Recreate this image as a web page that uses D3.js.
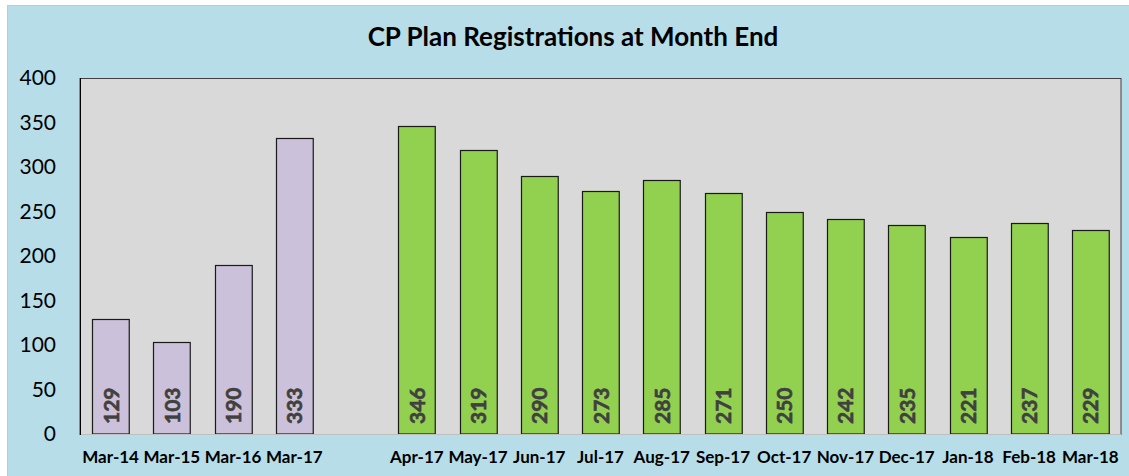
<!DOCTYPE html>
<html>
<head>
<meta charset="utf-8">
<script src="https://cdn.jsdelivr.net/npm/d3@7"></script>
<style>
  html, body { margin: 0; padding: 0; background: #ffffff; }
  svg { display: block; font-family: Lato, "Open Sans", sans-serif; }
</style>
</head>
<body>
<svg id="chart" width="1129" height="476"></svg>
<script>
// categories, "" is the empty gap slot between the two groups
var categories = ["Mar-14", "Mar-15", "Mar-16", "Mar-17", "",
	"Apr-17", "May-17", "Jun-17", "Jul-17", "Aug-17", "Sep-17",
	"Oct-17", "Nov-17", "Dec-17", "Jan-18", "Feb-18", "Mar-18"]
var yearEndValues = [129, 103, 190, 333]
var yearEndMonths = ["Mar-14", "Mar-15", "Mar-16", "Mar-17"]
var monthlyValues = [346, 319, 290, 273, 285, 271, 250, 242, 235, 221, 237, 229]
var monthlyMonths = ["Apr-17", "May-17", "Jun-17", "Jul-17", "Aug-17", "Sep-17",
	"Oct-17", "Nov-17", "Dec-17", "Jan-18", "Feb-18", "Mar-18"]
var yTicks = [0, 50, 100, 150, 200, 250, 300, 350, 400]
var title = "CP Plan Registrations at Month End"

var svg = d3.select("#chart")
var W = 1129, H = 476
var plot = { left: 80, top: 78, right: 1121, bottom: 434 }

// outer chart area
svg.append("rect")
	.attr("x", 7.5).attr("y", 5.5)
	.attr("width", W).attr("height", H)
	.attr("fill", "#b7dde8")
	.attr("stroke", "#c8c8c8")

svg.append("text")
	.attr("x", 573).attr("y", 46)
	.attr("text-anchor", "middle")
	.attr("font-size", 26).attr("font-weight", "bold")
	.attr("fill", "#000")
	.text(title)

var x = d3.scaleBand()
	.domain(categories)
	.range([plot.left, plot.right])
	.paddingInner(0.4)
	.paddingOuter(0.2)

var y = d3.scaleLinear()
	.domain([0, 400])
	.range([plot.bottom, plot.top])

// plot area
svg.append("rect")
	.attr("x", plot.left).attr("y", plot.top + 0.5)
	.attr("width", plot.right - plot.left).attr("height", plot.bottom - plot.top)
	.attr("fill", "#d9d9d9")
	.attr("stroke", "#404040")

var bars = []
yearEndMonths.forEach(function(m, i) { bars.push({ cat: m, val: yearEndValues[i], color: "#ccc1da" }) })
monthlyMonths.forEach(function(m, i) { bars.push({ cat: m, val: monthlyValues[i], color: "#92d050" }) })

svg.append("g").selectAll("rect")
	.data(bars)
	.enter().append("rect")
	.attr("x", function(d) { return Math.round(x(d.cat)) + 0.5 })
	.attr("y", function(d) { return Math.round(y(d.val)) + 0.5 })
	.attr("width", x.bandwidth())
	.attr("height", function(d) { return y(0) - Math.round(y(d.val)) - 0.5 })
	.attr("fill", function(d) { return d.color })
	.attr("stroke", "#1a1a1a")
	.attr("stroke-width", 1.2)

// value labels, vertical inside bars
svg.append("g").selectAll("text")
	.data(bars)
	.enter().append("text")
	.attr("transform", function(d) {
		return "translate(" + (x(d.cat) + x.bandwidth() / 2 + 8) + "," + (y(0) - 10) + ") rotate(-90)"
	})
	.attr("font-size", 21).attr("font-weight", "bold")
	.attr("fill", "#404040")
	.attr("stroke", "#404040").attr("stroke-width", 0.6)
	.text(function(d) { return d.val })

// bottom axis line
svg.append("line")
	.attr("x1", plot.left).attr("x2", plot.right)
	.attr("y1", plot.bottom + 0.5).attr("y2", plot.bottom + 0.5)
	.attr("stroke", "#bfbfbf")
svg.append("line")
	.attr("x1", plot.left + 0.5).attr("x2", plot.left + 0.5)
	.attr("y1", plot.top).attr("y2", plot.bottom + 1)
	.attr("stroke", "#000")

// y tick labels
svg.append("g").selectAll("text")
	.data(yTicks)
	.enter().append("text")
	.attr("x", 56).attr("y", function(d) { return y(d) + 7 })
	.attr("text-anchor", "end")
	.attr("font-size", 21)
	.attr("fill", "#000")
	.text(function(d) { return d })

// x tick labels
svg.append("g").selectAll("text")
	.data(categories.filter(function(c) { return c != "" }))
	.enter().append("text")
	.attr("x", function(d) { return x(d) + x.bandwidth() / 2 })
	.attr("y", 463)
	.attr("text-anchor", "middle")
	.attr("font-size", 17).attr("font-weight", "bold")
	.attr("fill", "#000")
	.text(function(d) { return d })
</script>
</body>
</html>
